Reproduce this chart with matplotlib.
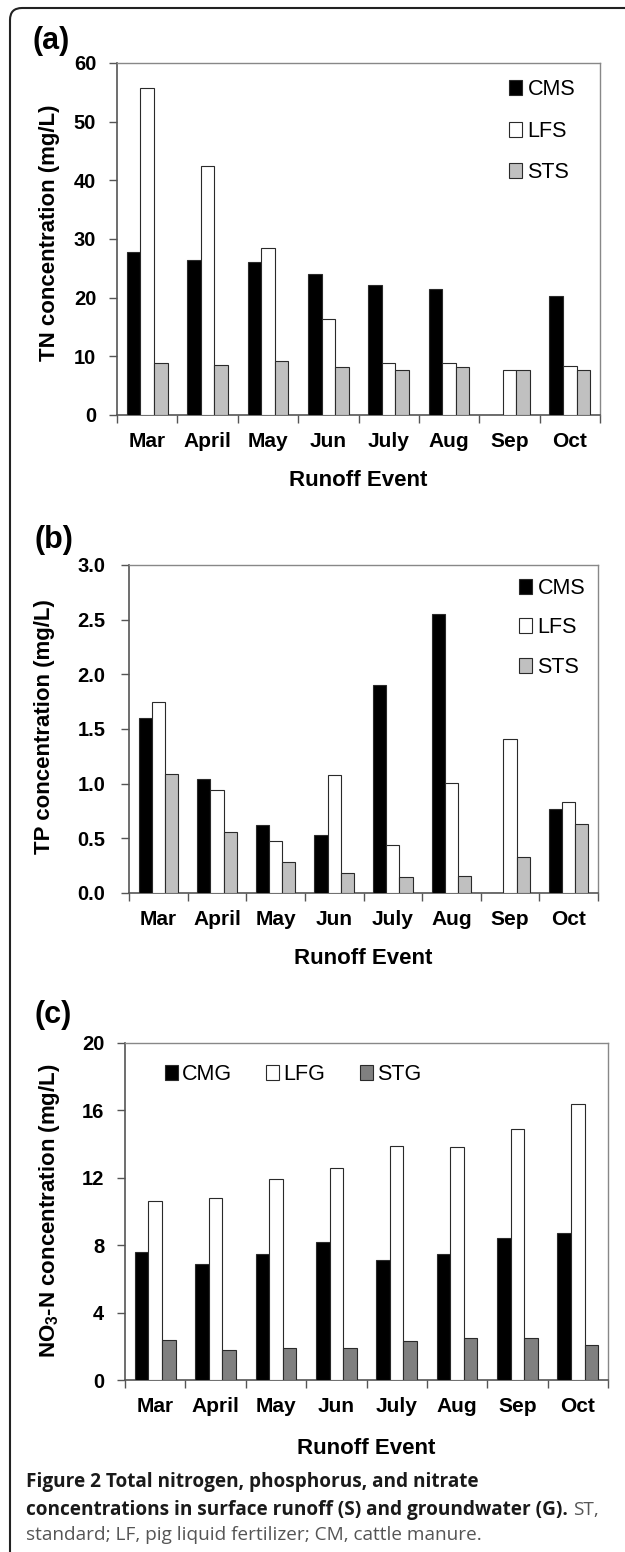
import numpy as np
import matplotlib
matplotlib.use("Agg")
import matplotlib.pyplot as plt
from matplotlib.patches import FancyBboxPatch

plt.rcParams['font.family'] = ['Liberation Sans', 'DejaVu Sans']
plt.rcParams['mathtext.fontset'] = 'custom'
plt.rcParams['mathtext.rm'] = 'Liberation Sans'
plt.rcParams['mathtext.bf'] = 'Liberation Sans:bold'
plt.rcParams['mathtext.default'] = 'bf'

months = ["Mar", "April", "May", "Jun", "July", "Aug", "Sep", "Oct"]

tn_cms = [27.8, 26.4, 26.1, 24.0, 22.2, 21.4, 0.0, 20.2]
tn_lfs = [55.8, 42.5, 28.5, 16.3, 8.9, 8.9, 7.7, 8.4]
tn_sts = [8.8, 8.6, 9.2, 8.2, 7.6, 8.2, 7.7, 7.7]

tp_cms = [1.60, 1.04, 0.62, 0.53, 1.90, 2.55, 0.0, 0.77]
tp_lfs = [1.75, 0.94, 0.48, 1.08, 0.44, 1.01, 1.41, 0.83]
tp_sts = [1.09, 0.56, 0.28, 0.18, 0.15, 0.16, 0.33, 0.63]

no3_cmg = [7.6, 6.9, 7.5, 8.2, 7.1, 7.5, 8.4, 8.7]
no3_lfg = [10.6, 10.8, 11.9, 12.6, 13.9, 13.8, 14.9, 16.4]
no3_stg = [2.4, 1.8, 1.9, 1.9, 2.3, 2.5, 2.5, 2.1]

W, H = 625, 1552
fig = plt.figure(figsize=(W / 100, H / 100), dpi=100)
fig.patch.set_facecolor('white')


def axes_px(left, top, right, bottom):
    return fig.add_axes([left / W, 1 - bottom / H, (right - left) / W, (bottom - top) / H])


def ftext(x, y, s, **kw):
    return fig.text(x / W, 1 - y / H, s, **kw)


def draw_panel(ax, series, labels, colors, ylim, yticks, yticklabels, ytickpad):
    x = np.arange(len(months))
    w = 0.225
    offs = [-w, 0, w]
    for vals, lab, col, o in zip(series, labels, colors, offs):
        ax.bar(x + o, vals, width=w, color=col, edgecolor='#2a2a2a', linewidth=0.8,
               label=lab, zorder=3)
    ax.set_xlim(-0.5, len(months) - 0.5)
    ax.set_ylim(*ylim)
    ax.set_yticks(yticks)
    ax.set_yticklabels(yticklabels, fontsize=14.5, fontweight='bold')
    ax.set_xticks(np.arange(len(months) + 1) - 0.5)
    ax.set_xticklabels([''] * (len(months) + 1))
    ax.set_xticks(x, minor=True)
    ax.set_xticklabels(months, minor=True, fontsize=15, fontweight='bold')
    ax.tick_params(axis='x', which='major', direction='out', length=6, width=1, color='#555555')
    ax.tick_params(axis='x', which='minor', length=0, pad=12.5)
    ax.tick_params(axis='y', direction='out', length=6, width=1, color='#555555', pad=ytickpad)
    for s in ['top', 'right']:
        ax.spines[s].set_color('#888888')
        ax.spines[s].set_linewidth(1.0)
    for s in ['left', 'bottom']:
        ax.spines[s].set_color('#555555')
        ax.spines[s].set_linewidth(1.2)


# Panel (a)
axa = axes_px(117, 63, 600, 415)
draw_panel(axa, [tn_cms, tn_lfs, tn_sts], ['CMS', 'LFS', 'STS'],
           ['#000000', '#ffffff', '#c0c0c0'], (0, 60), np.arange(0, 61, 10),
           [str(v) for v in range(0, 61, 10)], 9)
axa.legend(loc='upper left', bbox_to_anchor=(0.812, 0.954), frameon=False,
           fontsize=15.5, handlelength=0.6, handleheight=0.7, handletextpad=0.25,
           labelspacing=0.95, borderpad=0, borderaxespad=0)
ftext(33, 41, '(a)', fontsize=22, fontweight='bold', va='center', ha='left')
ftext(50, 233, 'TN concentration (mg/L)', fontsize=16, fontweight='bold', rotation=90,
      va='center', ha='center')
ftext(358, 480, 'Runoff Event', fontsize=16, fontweight='bold', va='center', ha='center')

# Panel (b)
axb = axes_px(129, 565, 598, 893)
tpt = np.arange(0, 3.01, 0.5)
draw_panel(axb, [tp_cms, tp_lfs, tp_sts], ['CMS', 'LFS', 'STS'],
           ['#000000', '#ffffff', '#c0c0c0'], (0, 3.0), tpt,
           ['%.1f' % v for v in tpt], 11)
axb.legend(loc='upper left', bbox_to_anchor=(0.832, 0.960), frameon=False,
           fontsize=15.5, handlelength=0.6, handleheight=0.7, handletextpad=0.25,
           labelspacing=0.85, borderpad=0, borderaxespad=0)
ftext(34, 540, '(b)', fontsize=22, fontweight='bold', va='center', ha='left')
ftext(45, 727, 'TP concentration (mg/L)', fontsize=16, fontweight='bold', rotation=90,
      va='center', ha='center')
ftext(363, 958, 'Runoff Event', fontsize=16, fontweight='bold', va='center', ha='center')

# Panel (c)
axc = axes_px(125, 1043, 608, 1380)
draw_panel(axc, [no3_cmg, no3_lfg, no3_stg], ['CMG', 'LFG', 'STG'],
           ['#000000', '#ffffff', '#808080'], (0, 20), np.arange(0, 21, 4),
           [str(v) for v in range(0, 21, 4)], 9)
axc.legend(loc='upper left', bbox_to_anchor=(0.082, 0.937), frameon=False, ncol=3,
           fontsize=15.5, handlelength=0.6, handleheight=0.7, handletextpad=0.2,
           columnspacing=1.6, borderpad=0, borderaxespad=0)
ftext(34, 1015, '(c)', fontsize=22, fontweight='bold', va='center', ha='left')
ftext(50, 1211, r'NO$_3$-N concentration (mg/L)', fontsize=16, fontweight='bold',
      rotation=90, va='center', ha='center')
ftext(366, 1448, 'Runoff Event', fontsize=16, fontweight='bold', va='center', ha='center')

# Caption
capfam = ['Open Sans', 'DejaVu Sans']
cap_fs = 13.7
ftext(26, 1482, 'Figure 2 Total nitrogen, phosphorus, and nitrate', fontsize=cap_fs,
      fontweight='bold', family=capfam, color='#1a1a1a', va='center', ha='left')
t2 = ftext(26, 1510, 'concentrations in surface runoff (S) and groundwater (G).',
           fontsize=cap_fs, fontweight='bold', family=capfam, color='#1a1a1a',
           va='center', ha='left')
renderer = fig.canvas.get_renderer()
bb = t2.get_window_extent(renderer=renderer)
ftext(bb.x1 + 5, 1510, 'ST,', fontsize=cap_fs, family=capfam, color='#555555',
      va='center', ha='left')
ftext(26, 1535, 'standard; LF, pig liquid fertilizer; CM, cattle manure.', fontsize=cap_fs,
      family=capfam, color='#555555', va='center', ha='left')

# Rounded frame (top and left edges)
frame = FancyBboxPatch((10, -30), 700, H - 8 + 30, boxstyle='round,pad=0,rounding_size=12',
                       transform=None, fill=False, edgecolor='#222222', linewidth=1.5)
fig.add_artist(frame)

fig.savefig('out.png', dpi=100)
